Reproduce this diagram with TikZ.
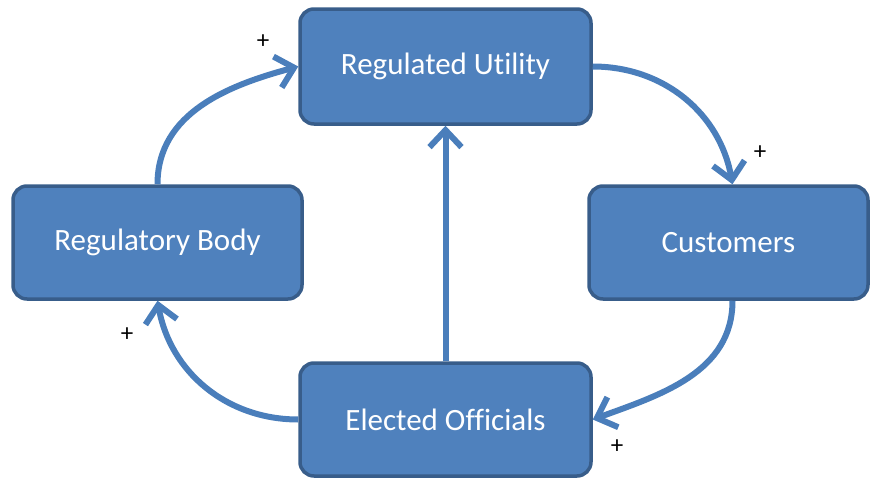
\documentclass[tikz,border=0pt]{standalone}
\usepackage{fontspec}
\setmainfont{Carlito}[Ligatures=NoCommon]
\usetikzlibrary{arrows.meta}
\definecolor{boxfill}{HTML}{4F81BD}
\definecolor{boxedge}{HTML}{385D8A}
\definecolor{flow}{HTML}{4A7EBB}
\tikzset{
  block/.style={draw=boxedge, line width=3.5pt, fill=boxfill, rounded corners=14pt,
    text=white, font=\fontsize{31}{36}\selectfont, inner sep=0pt},
  link/.style={draw=flow, line width=6pt,
    -{Straight Barb[length=17pt, width=32pt]}},
  sign/.style={font=\fontsize{25}{28}\selectfont, text=black, inner sep=0pt},
}
\begin{document}
\begin{tikzpicture}[x=1pt, y=-1pt]
  \useasboundingbox (0,0) rectangle (871,479);
  % the four actors
  \node[block, minimum width=291pt, minimum height=115pt] (ru) at (445.5,66.5) {Regulated Utility};
  \node[block, minimum width=279pt, minimum height=113pt] (cu) at (728.5,242.5) {Customers};
  \node[block, minimum width=289pt, minimum height=113pt] (rb) at (157.5,242.5) {Regulatory Body};
  \node[block, minimum width=291pt, minimum height=113pt] (eo) at (445.5,419.5) {Elected Officials};
  % influence loop
  \draw[link] (rb.north) to[out=90, in=195] (ru.west);
  \draw[link] (ru.east) to[out=0, in=100] ([xshift=4pt]cu.north);
  \draw[link] ([xshift=4pt]cu.south) to[out=-90, in=20] (eo.east);
  \draw[link] (eo.west) to[out=180, in=-80] (rb.south);
  \draw[link] (eo.north) -- (ru.south);
  % polarity marks
  \node[sign] (p1) at (263,42) {+};
  \node[sign] (p2) at (760,153) {+};
  \node[sign] (p3) at (617,447) {+};
  \node[sign] (p4) at (127,335) {+};
\end{tikzpicture}
\end{document}
